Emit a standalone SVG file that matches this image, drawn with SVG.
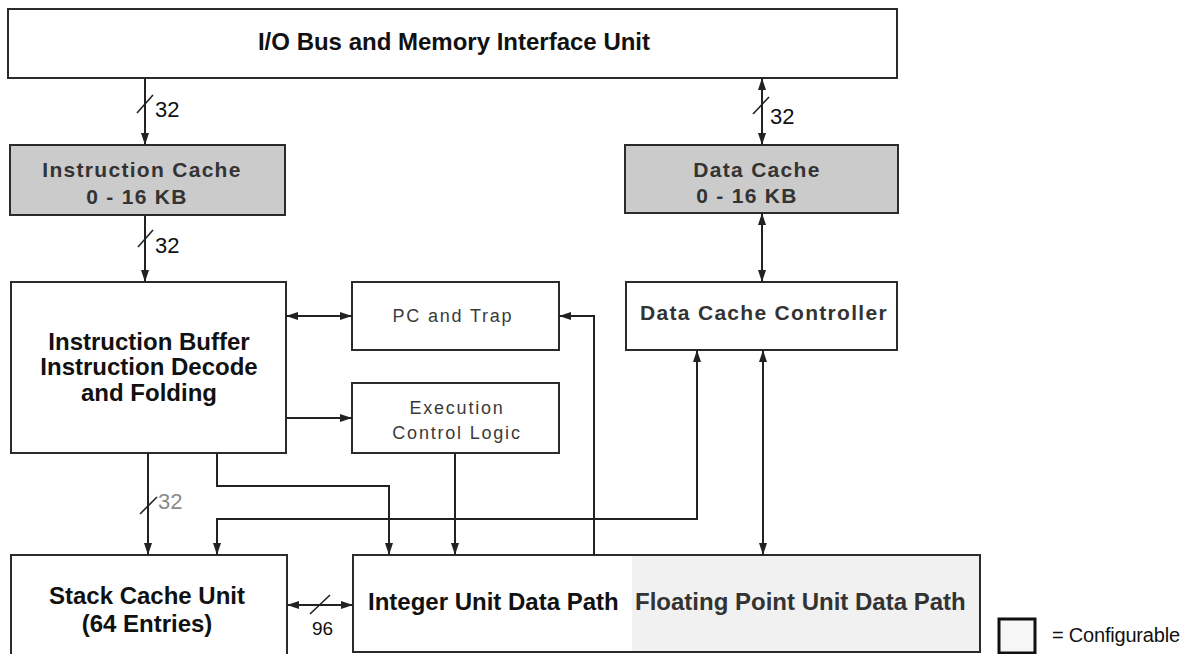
<svg xmlns="http://www.w3.org/2000/svg" width="1190" height="654" viewBox="0 0 1190 654">
<defs>
<marker id="ah" viewBox="0 0 12 8" refX="12" refY="4" markerWidth="12" markerHeight="8" orient="auto-start-reverse" markerUnits="userSpaceOnUse"><path d="M0,0 L12,4 L0,8 Z" fill="#222"/></marker>
<style>
.box{fill:#fff;stroke:#2b2b2b;stroke-width:2}
.cfg{fill:#cbcbcb;stroke:#2b2b2b;stroke-width:2}
.b{font-family:"Liberation Sans",Arial,sans-serif;font-weight:bold;font-size:24px;fill:#111}
.bg{font-family:"Liberation Sans",Arial,sans-serif;font-weight:bold;font-size:21px;letter-spacing:1.3px;fill:#333}
.r{font-family:"Liberation Sans",Arial,sans-serif;font-size:18px;letter-spacing:1.8px;fill:#3a3a3a}
.n{font-family:"Liberation Sans",Arial,sans-serif;font-size:22px;fill:#111}
.c{fill:none;stroke:#222;stroke-width:2}
.sl{stroke:#222;stroke-width:1.6}
</style>
</defs>
<rect width="1190" height="654" fill="#fff"/>

<g id="io-bus">
<rect class="box" x="8" y="9" width="889" height="69"/>
<text class="b" x="454" y="50" text-anchor="middle">I/O Bus and Memory Interface Unit</text>
</g>

<g id="instruction-cache">
<rect class="cfg" x="10" y="145" width="275" height="70"/>
<text class="bg" x="142" y="177" text-anchor="middle">Instruction Cache</text>
<text class="bg" x="137" y="204" text-anchor="middle">0 - 16 KB</text>
</g>

<g id="data-cache">
<rect class="cfg" x="625" y="145" width="273" height="68"/>
<text class="bg" x="757" y="177" text-anchor="middle">Data Cache</text>
<text class="bg" x="747" y="203" text-anchor="middle">0 - 16 KB</text>
</g>

<g id="instruction-buffer">
<rect class="box" x="11" y="282" width="275" height="171"/>
<text class="b" x="149" y="350" text-anchor="middle">Instruction Buffer</text>
<text class="b" x="149" y="375" text-anchor="middle">Instruction Decode</text>
<text class="b" x="149" y="401" text-anchor="middle">and Folding</text>
</g>

<g id="pc-trap">
<rect class="box" x="352" y="282" width="207" height="68"/>
<text class="r" x="453" y="322" text-anchor="middle">PC and Trap</text>
</g>

<g id="execution-control">
<rect class="box" x="352" y="383" width="207" height="70"/>
<text class="r" x="457" y="414" text-anchor="middle">Execution</text>
<text class="r" x="457" y="439" text-anchor="middle">Control Logic</text>
</g>

<g id="data-cache-controller">
<rect class="box" x="626" y="282" width="271" height="68"/>
<text class="bg" x="764" y="320" text-anchor="middle">Data Cache Controller</text>
</g>

<g id="stack-cache">
<rect class="box" x="11" y="555" width="276" height="102"/>
<text class="b" x="147" y="604" text-anchor="middle">Stack Cache Unit</text>
<text class="b" x="147" y="632" text-anchor="middle">(64 Entries)</text>
</g>

<g id="integer-fpu">
<rect class="box" x="353" y="555" width="627" height="97"/>
<rect x="632" y="556" width="347" height="95" fill="#f1f1f1"/>
<text class="b" x="368" y="610">Integer Unit Data Path</text>
<text class="b" x="635" y="610" style="fill:#333">Floating Point Unit Data Path</text>
</g>

<g id="legend">
<rect x="999" y="619" width="36" height="34" fill="#f6f6f6" stroke="#111" stroke-width="3"/>
<text x="1052" y="642" font-family="'Liberation Sans',Arial,sans-serif" font-size="20" letter-spacing="-0.2" fill="#111">= Configurable</text>
</g>

<g id="connectors">
<line class="c" x1="145" y1="78" x2="145" y2="145" marker-end="url(#ah)"/>
<line class="sl" x1="137" y1="113" x2="153" y2="95"/>
<text class="n" x="155" y="117">32</text>

<line class="c" x1="762" y1="78" x2="762" y2="145" marker-start="url(#ah)" marker-end="url(#ah)"/>
<line class="sl" x1="753" y1="114" x2="769" y2="97"/>
<text class="n" x="770" y="124">32</text>

<line class="c" x1="145" y1="215" x2="145" y2="282" marker-end="url(#ah)"/>
<line class="sl" x1="138" y1="247" x2="153" y2="230"/>
<text class="n" x="155" y="253">32</text>

<line class="c" x1="762" y1="213" x2="762" y2="282" marker-start="url(#ah)" marker-end="url(#ah)"/>

<line class="c" x1="286" y1="316" x2="352" y2="316" marker-start="url(#ah)" marker-end="url(#ah)"/>
<line class="c" x1="286" y1="418" x2="352" y2="418" marker-end="url(#ah)"/>

<line class="c" x1="148" y1="453" x2="148" y2="555" marker-end="url(#ah)"/>
<line class="sl" x1="140" y1="514" x2="157" y2="497"/>
<text class="n" x="158" y="509" style="fill:#8a8a8a">32</text>

<path class="c" d="M217,453 V486 H389 V555" marker-end="url(#ah)"/>
<line class="c" x1="455" y1="453" x2="455" y2="555" marker-end="url(#ah)"/>
<path class="c" d="M697,350 V519 H217 V555" marker-start="url(#ah)" marker-end="url(#ah)"/>
<path class="c" d="M594,555 V316 H559" marker-end="url(#ah)"/>
<line class="c" x1="763" y1="350" x2="763" y2="555" marker-start="url(#ah)" marker-end="url(#ah)"/>

<line class="c" x1="287" y1="605" x2="353" y2="605" marker-start="url(#ah)" marker-end="url(#ah)"/>
<line class="sl" x1="310" y1="614" x2="330" y2="595"/>
<text class="n" x="312" y="635" style="font-size:19px">96</text>
</g>
</svg>
